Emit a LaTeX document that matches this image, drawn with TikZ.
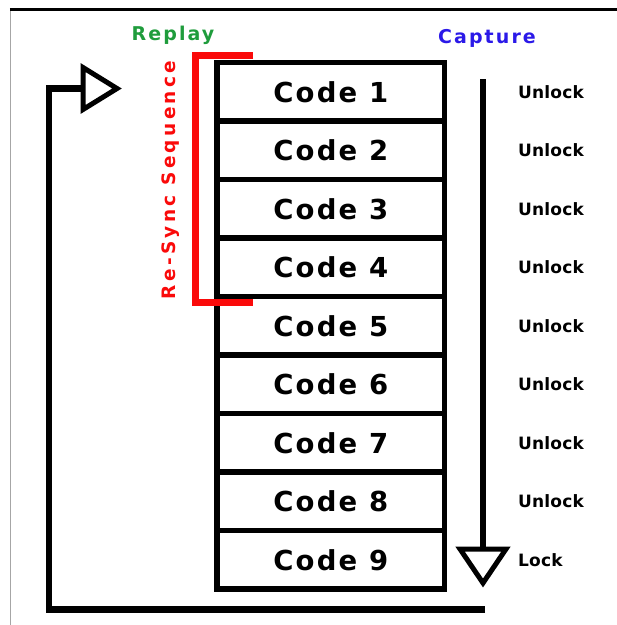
\documentclass[tikz,border=0pt]{standalone}
\usepackage{fontspec}
\setmainfont{DejaVu Sans}
\newfontfamily\codefont{DejaVu Sans}[LetterSpace=8]
\newfontfamily\headfont{DejaVu Sans}[LetterSpace=11]
\newfontfamily\syncfont{DejaVu Sans}[LetterSpace=18]
\newfontfamily\lockfont{DejaVu Sans}[LetterSpace=1]
\usetikzlibrary{positioning,calc}

\definecolor{replaygreen}{HTML}{1F9C3C}
\definecolor{captureblue}{HTML}{2B19E8}
\definecolor{syncred}{HTML}{FA0A0A}

\tikzset{
  codebox/.style={draw, line width=5.5pt, outer sep=0pt, inner sep=0pt,
    minimum width=227.5pt, minimum height=58.5pt,
    font=\codefont\fontsize{27.5}{30}\selectfont\bfseries},
  statelbl/.style={anchor=west, inner sep=0pt,
    font=\lockfont\fontsize{17}{19}\selectfont\bfseries},
  headlbl/.style={anchor=base, inner sep=0pt,
    font=\headfont\fontsize{19}{21}\selectfont\bfseries},
  hollowtip/.style={line width=5pt, line join=miter, fill=white},
}

\begin{document}
\begin{tikzpicture}[x=1pt,y=-1pt]
  \useasboundingbox (0,0) rectangle (617,625);

  % frame
  \draw[gray!70, line width=1.5pt] (10.5,8) -- (10.5,625);
  \draw[line width=3pt] (9.75,9) -- (617,9);

  % the stack of codes
  \node[codebox] (code1) at (330.75,91.75) {Code 1};
  \foreach \i [remember=\i as \j (initially 1)] in {2,...,9}
    \node[codebox, below=0pt of code\j] (code\i) {Code \i};

  % lock state of each code
  \coordinate (lockx) at (518,0);
  \foreach \i in {1,...,8}
    \node[statelbl] (state\i) at (code\i.center -| lockx) {Unlock};
  \node[statelbl] (state9) at (code9.center -| lockx) {Lock};

  % headings
  \node[headlbl, text=replaygreen] (replay) at (173,40) {Replay};
  \node[headlbl, text=captureblue] (capture) at (487,43) {Capture};

  % re-sync bracket over codes 1-4
  \draw[syncred, line width=7pt, line join=miter]
    ($(code1.north west)+(36,-7)$) -- ($(code1.north west)+(-21.5,-7)$)
    -- ($(code4.south west)+(-21.5,6)$) -- ($(code4.south west)+(36,6)$);
  \node[headlbl, font=\syncfont\fontsize{18.5}{21}\selectfont\bfseries,
    text=syncred, rotate=90] (resync) at (175.5,180) {Re-Sync Sequence};

  % capture runs down the stack
  \coordinate (captop) at (483,79);
  \coordinate (capend) at (483,549);
  \draw[line width=6pt] (captop) -- (capend);
  \draw[hollowtip] ($(capend)+(-23,0)$) -- ($(capend)+(23,0)$)
    -- ($(capend)+(0,34)$) -- cycle;

  % replay loops back to the top
  \coordinate (loopstart) at (485,609.5);
  \coordinate (loopcorner) at (49,609.5);
  \coordinate (looptop) at (49,88.5);
  \coordinate (replaytip) at (83,88.5);
  \draw[line width=6.5pt, line join=miter] (loopstart) -- (loopcorner)
    -- (looptop) -- (replaytip);
  \draw[hollowtip] ($(replaytip)+(0,-21)$) -- ($(replaytip)+(34,0)$)
    -- ($(replaytip)+(0,21)$) -- cycle;
\end{tikzpicture}
\end{document}
